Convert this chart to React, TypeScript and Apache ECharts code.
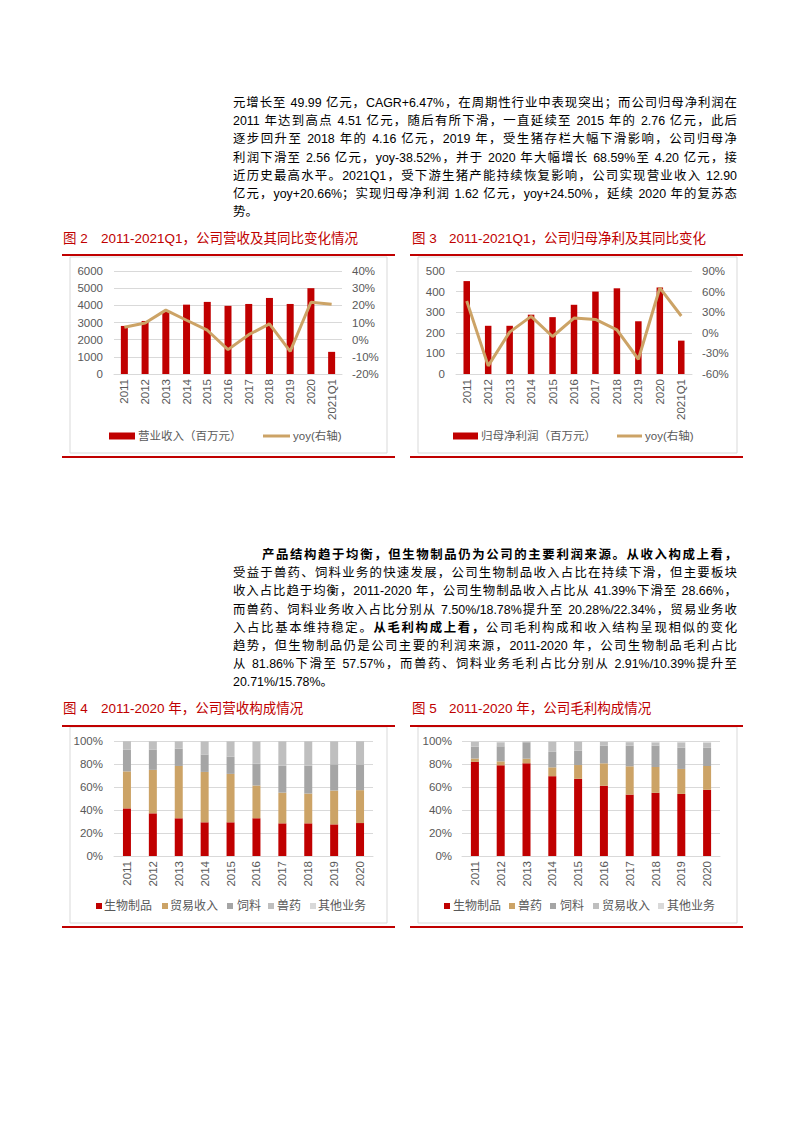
import React, { useEffect, useRef } from "react";
import * as echarts from "echarts";

// ---------- data ----------
const years11 = ["2011", "2012", "2013", "2014", "2015", "2016", "2017", "2018", "2019", "2020", "2021Q1"];
const revenue = [2800, 3090, 3660, 4040, 4200, 3970, 4080, 4430, 4080, 4999, 1290];
const revenueYoy = [7.2, 9.7, 17.2, 11.3, 5.5, -5.8, 2.9, 9.2, -6.8, 21.8, 20.66];
const profit = [451, 234, 234, 288, 276, 336, 400, 416, 256, 420, 162];
const profitYoy = [46.3, -48.2, 1.0, 23.9, -5.4, 21.4, 19.5, 4.4, -38.52, 65.3, 24.5];

const years10 = ["2011", "2012", "2013", "2014", "2015", "2016", "2017", "2018", "2019", "2020"];
// revenue composition (%)
const revBio = [41.39, 37.1, 32.8, 29.3, 29.3, 32.8, 28.4, 28.4, 27.5, 28.66];
const revTrade = [32.2, 37.8, 45.5, 43.8, 42.1, 28.6, 26.7, 25.9, 29.4, 28.6];
const revFeed = [18.78, 17.7, 15.1, 15.2, 14.9, 18.9, 23.5, 24.3, 22.8, 22.34];
const revVet = [7.5, 7.2, 6.4, 11.5, 13.5, 19.5, 21.2, 21.2, 20.1, 20.28];
const revOther = [0.13, 0.2, 0.2, 0.2, 0.2, 0.2, 0.2, 0.2, 0.2, 0.12];
// gross profit composition (%)
const gpBio = [81.86, 78.9, 80.6, 69.4, 67.1, 61.1, 53.4, 54.9, 54.0, 57.57];
const gpVet = [2.91, 3.4, 4.0, 7.7, 12.0, 19.5, 24.6, 22.5, 21.7, 20.71];
const gpFeed = [10.39, 13.1, 14.3, 13.5, 12.6, 15.4, 18.0, 18.6, 18.6, 15.78];
const gpTrade = [4.3, 3.5, 0.8, 9.0, 8.0, 3.5, 3.0, 2.8, 4.5, 4.5];
const gpOther = [0.5, 1.1, 0.3, 0.4, 0.3, 0.5, 1.0, 1.2, 1.2, 1.44];

const leftTicks2 = { min: 0, max: 6000, interval: 1000 };
const rightTicks2 = { min: -20, max: 40, interval: 10 };
const leftTicks3 = { min: 0, max: 500, interval: 100 };
const rightTicks3 = { min: -60, max: 90, interval: 30 };
const pctTicks = { min: 0, max: 100, interval: 20 };

const p1Lines = [
  "元增长至 49.99 亿元，CAGR+6.47%，在周期性行业中表现突出；而公司归母净利润在",
  "2011 年达到高点 4.51 亿元，随后有所下滑，一直延续至 2015 年的 2.76 亿元，此后",
  "逐步回升至 2018 年的 4.16 亿元，2019 年，受生猪存栏大幅下滑影响，公司归母净",
  "利润下滑至 2.56 亿元，yoy-38.52%，并于 2020 年大幅增长 68.59%至 4.20 亿元，接",
  "近历史最高水平。2021Q1，受下游生猪产能持续恢复影响，公司实现营业收入 12.90",
  "亿元，yoy+20.66%；实现归母净利润 1.62 亿元，yoy+24.50%，延续 2020 年的复苏态",
  "势。",
];
const p2Lines: [string, boolean][][] = [
  [["产品结构趋于均衡，但生物制品仍为公司的主要利润来源。从收入构成上看，", true]],
  [["受益于兽药、饲料业务的快速发展，公司生物制品收入占比在持续下滑，但主要板块", false]],
  [["收入占比趋于均衡，2011-2020 年，公司生物制品收入占比从 41.39%下滑至 28.66%，", false]],
  [["而兽药、饲料业务收入占比分别从 7.50%/18.78%提升至 20.28%/22.34%，贸易业务收", false]],
  [["入占比基本维持稳定。", false], ["从毛利构成上看，", true], ["公司毛利构成和收入结构呈现相似的变化", false]],
  [["趋势，但生物制品仍是公司主要的利润来源，2011-2020 年，公司生物制品毛利占比", false]],
  [["从 81.86%下滑至 57.57%，而兽药、饲料业务毛利占比分别从 2.91%/10.39%提升至", false]],
  [["20.71%/15.78%。", false]],
];

// ---------- styles ----------
const FONT = '"Liberation Sans", "Noto Sans CJK SC", sans-serif';
const RED = "#C00000";
const TAN = "#CCA366";
const G1 = "#A5A5A5";
const G2 = "#BFBFBF";
const G3 = "#D9D9D9";
const LABEL = "#595959";
const GRID = "#D9D9D9";

function catAxis(gridIndex: number, data: string[]) {
  return {
    type: "category",
    gridIndex,
    data,
    axisLine: { lineStyle: { color: GRID } },
    axisTick: { show: false },
    axisLabel: { rotate: 90, color: LABEL, fontSize: 11.5, fontFamily: FONT, margin: 5, interval: 0 },
  };
}
function valAxis(gridIndex: number, t: any, pos: "left" | "right", suffix: string, split: boolean, margin: number) {
  return {
    type: "value",
    gridIndex,
    position: pos,
    min: t.min,
    max: t.max,
    interval: t.interval,
    axisLine: { show: false },
    axisTick: { show: false },
    splitLine: { show: split, lineStyle: { color: GRID, width: 1 } },
    axisLabel: {
      formatter: (v: number) => String(v) + suffix,
      color: LABEL,
      fontSize: 11.5,
      fontFamily: FONT,
      margin,
    },
  };
}
function txt(x: number, y: number, text: string, size: number, fill: string) {
  return {
    type: "text",
    x,
    y,
    silent: true,
    style: { text, fontSize: size, fontFamily: FONT, fill, verticalAlign: "middle", align: "left" },
  };
}
function rect(x: number, y: number, w: number, h: number, fill: string) {
  return { type: "rect", silent: true, shape: { x, y, width: w, height: h }, style: { fill } };
}
function box(x: number, y: number, w: number, h: number) {
  return { type: "rect", silent: true, z: -1, shape: { x, y, width: w, height: h }, style: { fill: "none", stroke: "#D9D9D9", lineWidth: 1 } };
}
function redLine(x1: number, x2: number, y: number) {
  return { type: "line", silent: true, shape: { x1, y1: y, x2, y2: y }, style: { stroke: RED, lineWidth: 2 } };
}

function stackBar(name: string, data: number[], color: string, xi: number, yi: number, stack: string) {
  return {
    name,
    type: "bar",
    xAxisIndex: xi,
    yAxisIndex: yi,
    stack,
    barWidth: 8,
    data,
    itemStyle: { color },
  };
}

export default function App() {
  const ref = useRef<HTMLDivElement>(null);
  useEffect(() => {
    if (!ref.current) return;
    const chart = echarts.init(ref.current, undefined, { renderer: "svg" });
    const option: any = {
      animation: false,
      grid: [
        { left: 114, top: 271, width: 228, height: 103 },
        { left: 456, top: 271, width: 236, height: 103 },
        { left: 114, top: 741, width: 259, height: 115 },
        { left: 462, top: 741, width: 258, height: 115 },
      ],
      xAxis: [catAxis(0, years11), catAxis(1, years11), catAxis(2, years10), catAxis(3, years10)],
      yAxis: [
        valAxis(0, leftTicks2, "left", "", true, 11),
        valAxis(0, rightTicks2, "right", "%", false, 10),
        valAxis(1, leftTicks3, "left", "", true, 11),
        valAxis(1, rightTicks3, "right", "%", false, 10),
        valAxis(2, pctTicks, "left", "%", true, 11),
        valAxis(3, pctTicks, "left", "%", true, 10),
      ],
      series: [
        { name: "营业收入（百万元）", type: "bar", xAxisIndex: 0, yAxisIndex: 0, barWidth: 7, data: revenue, itemStyle: { color: RED } },
        { name: "yoy(右轴)", type: "line", xAxisIndex: 0, yAxisIndex: 1, data: revenueYoy, symbol: "none", lineStyle: { color: TAN, width: 3 }, itemStyle: { color: TAN }, z: 3 },
        { name: "归母净利润（百万元）", type: "bar", xAxisIndex: 1, yAxisIndex: 2, barWidth: 6.5, data: profit, itemStyle: { color: RED } },
        { name: "yoy(右轴) ", type: "line", xAxisIndex: 1, yAxisIndex: 3, data: profitYoy, symbol: "none", lineStyle: { color: TAN, width: 3 }, itemStyle: { color: TAN }, z: 3 },
        stackBar("生物制品", revBio, RED, 2, 4, "rev"),
        stackBar("贸易收入", revTrade, TAN, 2, 4, "rev"),
        stackBar("饲料", revFeed, G1, 2, 4, "rev"),
        stackBar("兽药", revVet, G2, 2, 4, "rev"),
        stackBar("其他业务", revOther, G3, 2, 4, "rev"),
        stackBar("生物制品 ", gpBio, RED, 3, 5, "gp"),
        stackBar("兽药 ", gpVet, TAN, 3, 5, "gp"),
        stackBar("饲料 ", gpFeed, G1, 3, 5, "gp"),
        stackBar("贸易收入 ", gpTrade, G2, 3, 5, "gp"),
        stackBar("其他业务 ", gpOther, G3, 3, 5, "gp"),
      ],
      graphic: [
        // chart 2 frame
        txt(63, 238, "图 2", 13.5, RED),
        txt(101, 238, "2011-2021Q1，公司营收及其同比变化情况", 13.5, RED),
        redLine(62, 395, 255),
        box(70, 257, 317, 196),
        redLine(62, 395, 457),
        rect(109, 432.5, 26, 7, RED),
        txt(138, 436, "营业收入（百万元）", 11.5, LABEL),
        rect(263, 434.5, 27, 3, TAN),
        txt(293, 436, "yoy(右轴)", 11.5, LABEL),
        // chart 3 frame
        txt(412, 238, "图 3", 13.5, RED),
        txt(449, 238, "2011-2021Q1，公司归母净利及其同比变化", 13.5, RED),
        redLine(410, 743, 255),
        box(418, 257, 319, 196),
        redLine(410, 743, 457),
        rect(453, 432.5, 25, 7, RED),
        txt(481, 436, "归母净利润（百万元）", 11.5, LABEL),
        rect(617, 434.5, 25, 3, TAN),
        txt(645, 436, "yoy(右轴)", 11.5, LABEL),
        // chart 4 frame
        txt(63, 708, "图 4", 13.5, RED),
        txt(101, 708, "2011-2020 年，公司营收构成情况", 13.5, RED),
        redLine(62, 395, 726),
        box(70, 727, 317, 196),
        redLine(62, 395, 927),
        rect(96, 903, 6, 6, RED),
        txt(104, 906, "生物制品", 12, LABEL),
        rect(162, 903, 6, 6, TAN),
        txt(170, 906, "贸易收入", 12, LABEL),
        rect(227, 903, 6, 6, G1),
        txt(237, 906, "饲料", 12, LABEL),
        rect(268, 903, 6, 6, G2),
        txt(277, 906, "兽药", 12, LABEL),
        rect(310, 903, 6, 6, G3),
        txt(318, 906, "其他业务", 12, LABEL),
        // chart 5 frame
        txt(412, 708, "图 5", 13.5, RED),
        txt(449, 708, "2011-2020 年，公司毛利构成情况", 13.5, RED),
        redLine(410, 743, 726),
        box(418, 727, 319, 196),
        redLine(410, 743, 927),
        rect(444, 903, 6, 6, RED),
        txt(453, 906, "生物制品", 12, LABEL),
        rect(509, 903, 6, 6, TAN),
        txt(518, 906, "兽药", 12, LABEL),
        rect(550, 903, 6, 6, G1),
        txt(560, 906, "饲料", 12, LABEL),
        rect(593, 903, 6, 6, G2),
        txt(602, 906, "贸易收入", 12, LABEL),
        rect(658, 903, 6, 6, G3),
        txt(667, 906, "其他业务", 12, LABEL),
      ],
    };
    chart.setOption(option);
    return () => chart.dispose();
  }, []);

  const lineStyle = (left: number, center: number, width: number, justify: boolean): React.CSSProperties => ({
    position: "absolute",
    left,
    top: center - 9,
    width,
    height: 18,
    lineHeight: "18px",
    fontSize: 12.4,
    fontFamily: FONT,
    color: "#000",
    textAlign: justify ? "justify" : "left",
    textAlignLast: justify ? "justify" : "left",
    zIndex: 2,
  });

  return (
    <div style={{ position: "absolute", left: 0, top: 0, width: 793, height: 1122, background: "#fff" }}>
      <div ref={ref} style={{ position: "absolute", left: 0, top: 0, width: 793, height: 1122 }} />
      {p1Lines.map((l, i) => (
        <div key={"a" + i} style={lineStyle(233, 103 + 18.2 * i, 504, i < p1Lines.length - 1)}>
          {l}
        </div>
      ))}
      {p2Lines.map((segs, i) => (
        <div key={"b" + i} style={lineStyle(i === 0 ? 262 : 233, 555 + 18.2 * i, i === 0 ? 475 : 504, i < p2Lines.length - 1)}>
          {segs.map((s, j) => (s[1] ? <b key={j}>{s[0]}</b> : <span key={j}>{s[0]}</span>))}
        </div>
      ))}
    </div>
  );
}
